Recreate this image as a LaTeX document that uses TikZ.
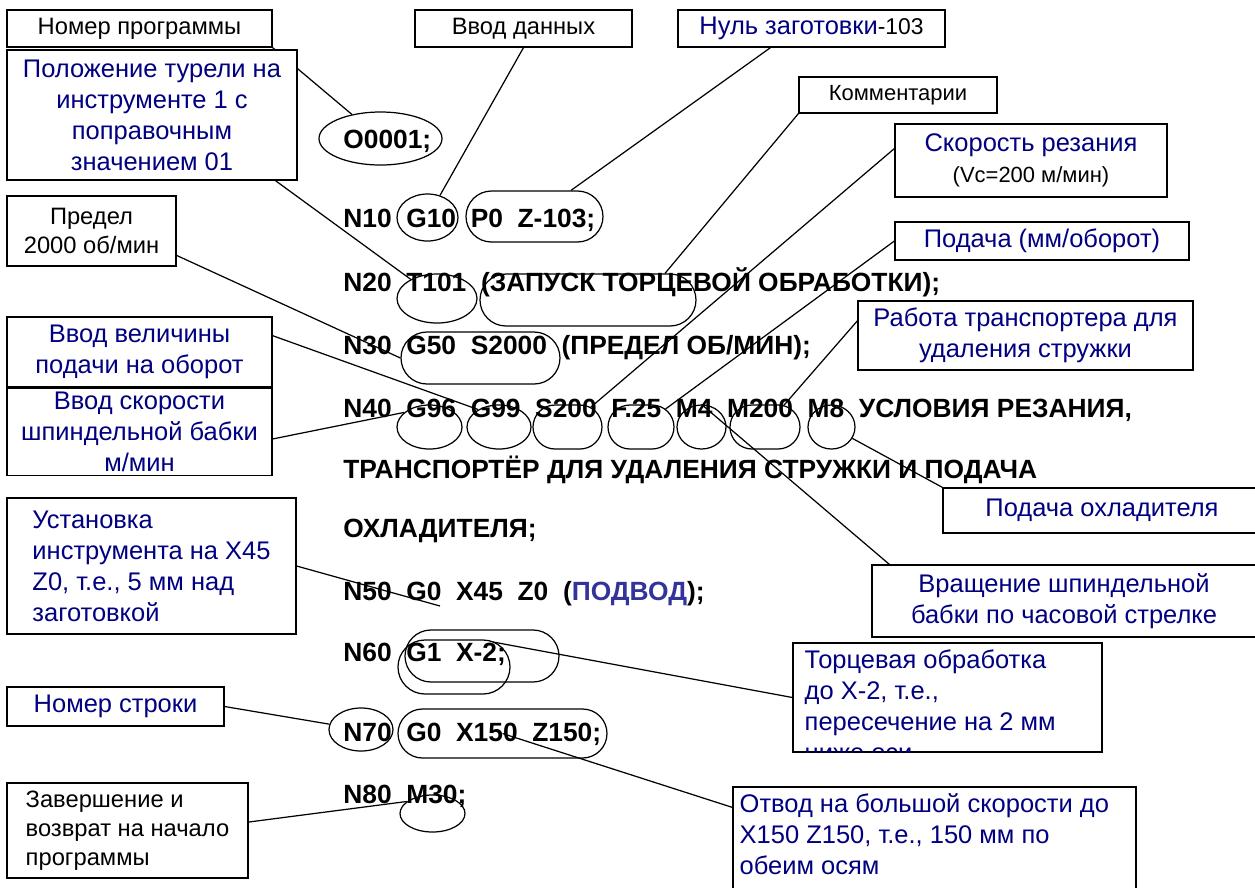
\documentclass[tikz,border=0pt]{standalone}
\usepackage{fontspec}
\setmainfont{Liberation Sans}
\usetikzlibrary{shapes.geometric, shapes.misc, positioning, calc, backgrounds}
\definecolor{noteBlue}{RGB}{0,0,128}
\definecolor{codeBlue}{RGB}{51,51,153}

\begin{document}
\begin{tikzpicture}[
    x=0.02cm, y=-0.02cm,
    code/.style={anchor=base west, inner sep=0pt, font=\bfseries\fontsize{15}{18}\selectfont},
    note/.style={rectangle, draw, fill=white, line width=0.7pt, inner sep=2pt, align=center, text=noteBlue, font=\fontsize{14.5}{17.6}\selectfont},
    plain/.style={note, text=black, font=\fontsize{13.5}{16.5}\selectfont},
    span/.style n args={4}{at={({(#1+#3)/2},{(#2+#4)/2})}, minimum width={(#3-#1)*0.02cm}, minimum height={(#4-#2)*0.02cm}},
    oval/.style 2 args={ellipse, draw, line width=0.7pt, inner sep=0pt, minimum width={#1*0.02cm}, minimum height={#2*0.02cm}},
    pill/.style 2 args={rounded rectangle, draw, line width=0.7pt, inner sep=0pt, minimum width={#1*0.02cm}, minimum height={#2*0.02cm}},
    link/.style={line width=0.7pt}
]
\path[use as bounding box, clip] (0,0) rectangle (1255,887);

% Program text
\node[code] (c0) at (343,148) {O0001;};
\node[code] (c10) at (343,227) {N10~~G10~~P0~~Z-103;};
\node[code] (c20) at (343,291) {N20~~T101~~(ЗАПУСК ТОРЦЕВОЙ ОБРАБОТКИ);};
\node[code] (c30) at (343,354) {N30~~G50~~S2000~~(ПРЕДЕЛ ОБ/МИН);};
\node[code] (c40) at (343,417) {N40~~G96~~G99~~S200~~F.25~~M4~~M200~~M8~~УСЛОВИЯ РЕЗАНИЯ,};
\node[code] (c41) at (343,478) {ТРАНСПОРТЁР ДЛЯ УДАЛЕНИЯ СТРУЖКИ И ПОДАЧА};
\node[code] (c42) at (343,537) {ОХЛАДИТЕЛЯ;};
\node[code] (c50) at (343,600) {N50~~G0~~X45~~Z0~~(\textcolor{codeBlue}{ПОДВОД});};
\node[code] (c60) at (343,661) {N60~~G1~~X-2;};
\node[code] (c70) at (343,741) {N70~~G0~~X150~~Z150;};
\node[code] (c80) at (343,803) {N80~~M30;};

% Marks round the words
\node[oval={123}{53}] (o1) at (380.5,138.5) {};
\node[oval={61}{47}] (g10) at (427.5,217.5) {};
\node[pill={137}{51}] (p0) at (534.5,216.5) {};
\node[oval={80}{49}] (t101) at (437,298.5) {};
\node[pill={216}{52}] (zap) at (588,300) {};
\node[pill={159}{52}] (g50) at (480.5,358) {};
\node[oval={65}{44}] (g96) at (429.5,427) {};
\node[oval={64}{44}] (g99) at (499,427) {};
\node[pill={69}{44}] (s200) at (567.5,427) {};
\node[pill={66}{44}] (f25) at (641,427) {};
\node[oval={49}{44}] (m4) at (701.5,427) {};
\node[pill={70}{44}] (m200) at (765,427) {};
\node[oval={47}{44}] (m8) at (831.5,427) {};
\node[pill={154}{52}] (n60a) at (482,656) {};
\node[pill={112}{54}] (n60b) at (454,667) {};
\node[oval={64}{43}] (n70) at (361,729.5) {};
\node[pill={209}{49}] (g0) at (502.5,733.5) {};
\node[oval={65}{37}] (m30) at (432.5,813.5) {};
\coordinate (n50tip) at (440,606);
\coordinate (n60tip) at (493,642);

% Callouts
\node[plain, span={7}{10}{272}{47}] (prog) {Номер программы};
\node[note, span={7}{50}{297}{180}] (turret) {Положение турели на\\инструменте 1 с\\поправочным\\значением 01};
\node[plain, span={415}{10}{632}{47}] (datain) {Ввод данных};
\node[note, span={678}{10}{945}{47}] (wzero) {Нуль заготовки{\color{black}\fontsize{13}{15}\selectfont-103}};
\node[plain, span={799}{77}{997}{113}, font=\fontsize{12.5}{15}\selectfont] (comment) {Комментарии};
\node[note, span={895}{124}{1167}{197}] (cutspeed) {Скорость резания\\{\color{black}\fontsize{12.5}{15}\selectfont(Vc=200 м/мин)}};
\node[note, span={895}{222}{1189}{260}] (feed) {Подача (мм/оборот)};
\node[note, span={858}{301}{1193}{370}] (chip) {Работа транспортера для\\удаления стружки};
\node[plain, span={7}{196}{176}{266}] (limit) {Предел\\2000 об/мин};
\node[note, span={7}{317}{272}{387}] (feedin) {Ввод величины\\подачи на оборот};
\node[note, span={7}{390}{272}{474}] (spin) {Ввод скорости\\шпиндельной бабки\\м/мин};
\node[note, span={943}{488}{1261}{533}] (coolant) {Подача охладителя};
\node[note, span={872}{565}{1256}{637}] (rotation) {Вращение шпиндельной\\бабки по часовой стрелке};
\node[note, span={793}{643}{1102}{752}] (face) {};
\node[note, span={733}{787}{1136}{900}] (retract) {};
\node[note, span={7}{498}{296}{634}, align=left] (setup) {Установка\\инструмента на X45\\Z0, т.е., 5 мм над\\заготовкой};
\node[note, span={7}{687}{224}{726}] (lineno) {Номер строки};
\node[plain, span={7}{783}{248}{878}, align=left] (finish) {Завершение и\\возврат на начало\\программы};

\begin{scope}
  \clip (face.south west) rectangle (face.north east);
  \node[anchor=north west, align=left, inner sep=0pt, text=noteBlue, font=\fontsize{14.5}{17.6}\selectfont] (facetext) at ($(face.north west)+(12,7)$) {Торцевая обработка\\до X-2, т.е.,\\пересечение на 2 мм\\ниже оси};
\end{scope}
\node[anchor=north west, align=left, inner sep=0pt, text=noteBlue, font=\fontsize{14.5}{17.6}\selectfont] (retracttext) at ($(retract.north west)+(7,7)$) {Отвод на большой скорости до\\X150 Z150, т.е., 150 мм по\\обеим осям};

% Leader lines
\begin{scope}[on background layer]
\draw[link] (prog.south east) -- (o1);
\draw[link] (turret.-28) -- (t101);
\draw[link] (datain.south) -- (g10);
\draw[link] (wzero.-155) -- (p0);
\draw[link] (comment.south west) -- ($(zap.north)+(77,0)$);
\draw[link] (cutspeed.175) -- (s200);
\draw[link] (feed.west) -- (f25);
\draw[link] (chip.175) -- (m200);
\draw[link] (m8) -- (coolant.north west);
\draw[link] (m4.north) -- ($(rotation.north west)+(18,0)$);
\draw[link] (limit.-16) -- (g50.west);
\draw[link] (feedin.7) -- (g99.140);
\draw[link] (spin.-3) -- (g96.150);
\draw[link] (setup.east) -- (n50tip);
\draw[link] (face.west) -- (n60tip);
\draw[link] ($(retract.north west)+(0,21)$) -- (g0.center);
\draw[link] (lineno.east) -- (n70);
\draw[link] (finish.4) -- (m30.155);
\end{scope}
\end{tikzpicture}
\end{document}
